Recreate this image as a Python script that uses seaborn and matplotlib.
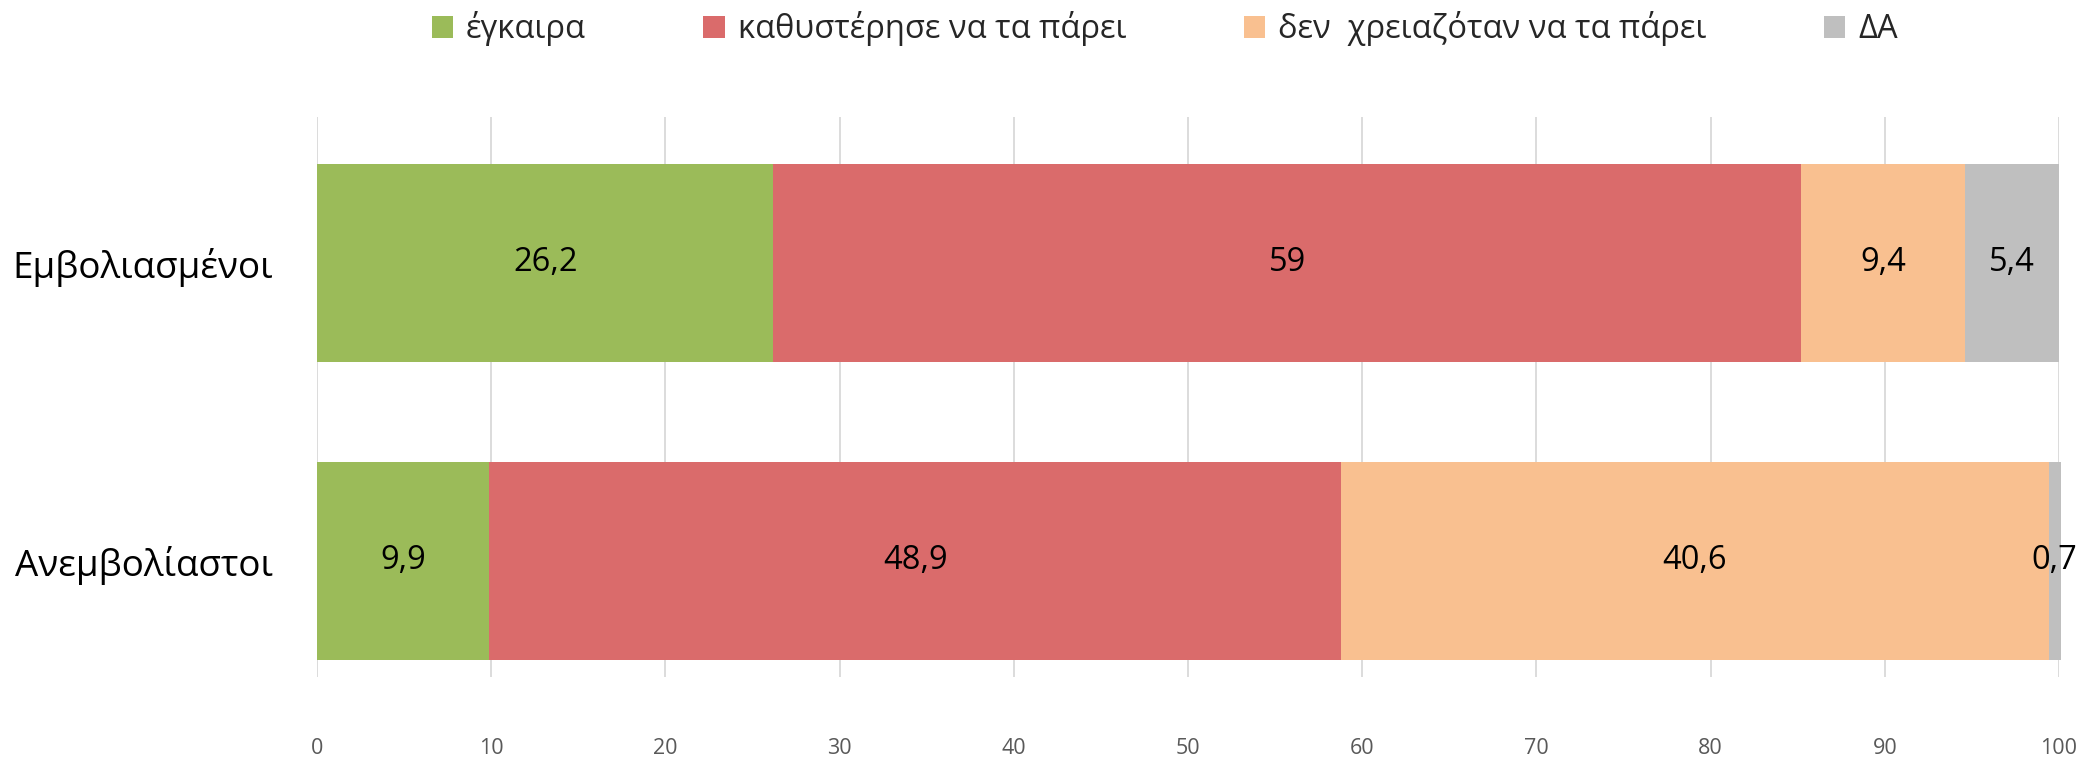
import numpy as np
import pandas as pd
import matplotlib
matplotlib.use("Agg")
import matplotlib.pyplot as plt
import seaborn as sns
from matplotlib.patches import Patch

# data
groups = ["Εμβολιασμένοι", "Ανεμβολίαστοι"]
series = ["έγκαιρα", "καθυστέρησε να τα πάρει", "δεν  χρειαζόταν να τα πάρει", "ΔΑ"]
egkaira = [26.2, 9.9]
kathysterise = [59, 48.9]
den_xreiazotan = [9.4, 40.6]
da = [5.4, 0.7]
colors = ["#9BBB59", "#DA6B6B", "#F9C090", "#BFBFBF"]
xticks = [0, 10, 20, 30, 40, 50, 60, 70, 80, 90, 100]

sns.set_style("white")
plt.rcParams["font.family"] = ["Open Sans", "DejaVu Sans"]

values = np.array([egkaira, kathysterise, den_xreiazotan, da])
cum = values.cumsum(axis=0)

fig = plt.figure(figsize=(20.91, 7.6), dpi=100)
ax = fig.add_axes([0.1516, 0.1092, 0.8331, 0.7368])

# stacked bars: draw cumulative totals from the longest down
for i in range(len(series) - 1, -1, -1):
    df = pd.DataFrame({"group": groups, "value": cum[i]})
    sns.barplot(data=df, y="group", x="value", orient="h", color=colors[i],
                saturation=1, width=0.664, ax=ax, errorbar=None)

for p in ax.patches:
    p.set_clip_on(False)
    p.set_linewidth(0)

# value labels in the middle of each segment
for i in range(len(series)):
    for j in range(len(groups)):
        v = values[i, j]
        mid = cum[i, j] - v / 2
        txt = f"{v:g}".replace(".", ",")
        ax.text(mid, j, txt, ha="center", va="center", fontsize=23.5, color="black")

ax.set_xlim(0, 100)
ax.set_ylim(1.39, -0.49)
ax.set_xticks(xticks)
ax.set_xticklabels([str(t) for t in xticks])
ax.xaxis.grid(True, color="#D9D9D9", linewidth=1.3)
ax.set_axisbelow(True)
for s in ax.spines.values():
    s.set_visible(False)
ax.tick_params(axis="x", length=0, pad=44, labelsize=15.5, labelcolor="#595959")
ax.tick_params(axis="y", length=0, pad=32, labelsize=26.5, labelcolor="black")
ax.set_xlabel("")
ax.set_ylabel("")

handles = [Patch(facecolor=c, edgecolor="none") for c in colors]
fig.legend(handles, series, loc="center", bbox_to_anchor=(0.557, 0.962), ncol=4,
           frameon=False, fontsize=23.5, handlelength=0.65, handleheight=0.65,
           handletextpad=0.4, columnspacing=3.6)

fig.savefig("out.png", dpi=100)
